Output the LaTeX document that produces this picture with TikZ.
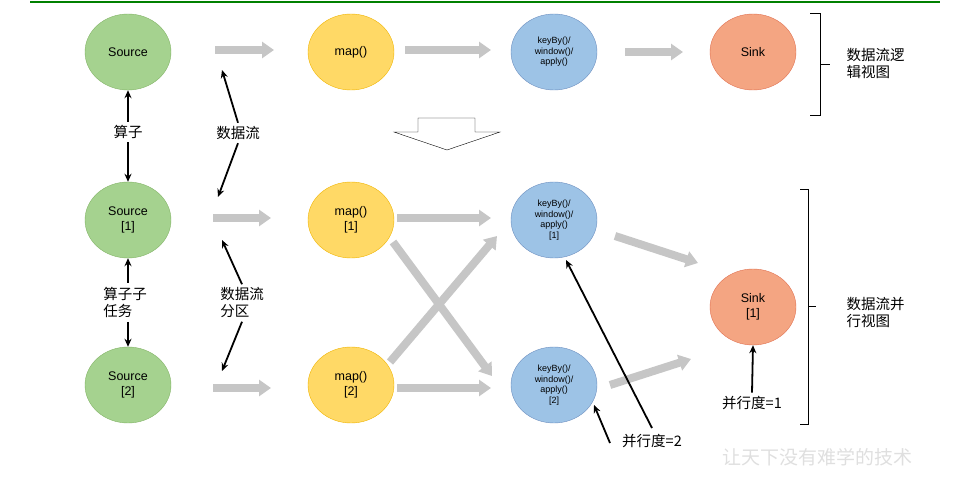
\documentclass[tikz,border=0pt]{standalone}
\usepackage{fontspec}
\setmainfont{Liberation Sans}
\newfontfamily\cjk{Noto Sans CJK SC}
\usetikzlibrary{shapes.geometric,shapes.arrows,arrows.meta,decorations.pathreplacing}
\definecolor{gfill}{HTML}{A5D28F}\definecolor{gline}{HTML}{82B366}
\definecolor{yfill}{HTML}{FFD966}\definecolor{yline}{HTML}{F0B400}
\definecolor{bfill}{HTML}{9DC3E6}\definecolor{bline}{HTML}{6C8EBF}
\definecolor{rfill}{HTML}{F4A582}\definecolor{rline}{HTML}{E07050}
\begin{document}
\begin{tikzpicture}[x=1pt,y=-1pt,
 el/.style={ellipse,minimum width=86pt,minimum height=76pt,inner sep=0pt,align=center,font=\fontsize{12.5}{15}\selectfont},
 src/.style={el,fill=gfill,draw=gline},
 mp/.style={el,fill=yfill,draw=yline},
 kb/.style={el,fill=bfill,draw=bline,font=\fontsize{9}{10.5}\selectfont},
 sk/.style={el,fill=rfill,draw=rline},
 ga/.style={-{Triangle[length=12pt,width=16pt]},line width=8pt,draw=gray!45},
 ba/.style={-{Stealth[length=8pt,width=7pt]},line width=1.8pt},
 lab/.style={font=\cjk\fontsize{14.5}{17}\selectfont,align=left}]
\useasboundingbox (0,0) rectangle (956,502);
\draw[green!50!black,line width=1.5pt] (30,2)--(940,2);
\node[src] (s0) at (128,52) {Source};
\node[mp] (m0) at (351,52) {map()};
\node[kb] (k0) at (554,52) {keyBy()/\\window()/\\apply()};
\node[sk] (t0) at (753,52) {Sink};
\node[src] (s1) at (128,220) {Source\\{[1]}};
\node[mp] (m1) at (351,220) {map()\\{[1]}};
\node[kb] (k1) at (554,220) {keyBy()/\\window()/\\apply()\\{[1]}};
\node[src] (s2) at (128,385) {Source\\{[2]}};
\node[mp] (m2) at (351,385) {map()\\{[2]}};
\node[kb] (k2) at (554,385) {keyBy()/\\window()/\\apply()\\{[2]}};
\node[sk] (t1) at (753,307) {Sink\\{[1]}};
% gray arrows
\coordinate (a1) at (215,50); \coordinate (a2) at (274,50);
\coordinate (a3) at (405,50); \coordinate (a4) at (491,50);
\coordinate (a5) at (625,52); \coordinate (a6) at (683,52);
\coordinate (b1) at (213,218); \coordinate (b2) at (271,218);
\coordinate (b3) at (397,218); \coordinate (b4) at (491,218);
\coordinate (c1) at (213,388); \coordinate (c2) at (271,388);
\coordinate (c3) at (397,388); \coordinate (c4) at (491,388);
\coordinate (x1) at (393,242); \coordinate (x2) at (492,376);
\coordinate (y1) at (390,362); \coordinate (y2) at (497,236);
\coordinate (z1) at (615,236); \coordinate (z2) at (698,263);
\coordinate (w1) at (610,385); \coordinate (w2) at (691,359);
\foreach \p/\q in {a1/a2,a3/a4,a5/a6,b1/b2,b3/b4,c1/c2,c3/c4,x1/x2,y1/y2,z1/z2,w1/w2}
  \draw[ga] (\p)--(\q);
% hollow arrow
\draw[fill=white] (418,118)--(475,118)--(475,132)--(500,132)--(447,150)--(394,132)--(418,132)--cycle;
% labels
\node[lab] (l1) at (128,132) {算子};
\node[lab] (l2) at (238,133) {数据流};
\node[lab] (l3) at (125,302) {算子子\\任务};
\node[lab] (l4) at (242,303) {数据流\\分区};
\node[lab] (l5) at (652,441) {并行度=2};
\node[lab] (l6) at (752,403) {并行度=1};
\coordinate (p1) at (222,70); \coordinate (p2) at (218,197);
\coordinate (p3) at (222,240); \coordinate (p4) at (222,371);
\coordinate (p5) at (566,260); \coordinate (p6) at (594,405);
\coordinate (q5) at (652,428); \coordinate (q6) at (610,443);
\coordinate (r1) at (128,283); \coordinate (r2) at (128,322);
\draw[ba] (l1.north)--(s0.south); \draw[ba] (l1.south)--(s1.north);
\draw[ba] (l2.north)--(p1); \draw[ba] (l2.south)--(p2);
\draw[ba] (r1)--(s1.south); \draw[ba] (r2)--(s2.north);
\draw[ba] (l4.north)--(p3); \draw[ba] (l4.south)--(p4);
\draw[ba] (q5)--(p5); \draw[ba] (q6)--(p6);
\draw[ba] (l6.north)--(t1.south);
% braces
\draw[line width=1pt] (810,14)--(820,14)--(820,116)--(810,116) (820,65)--(830,65);
\draw[line width=1pt] (800,190)--(808,190)--(808,425)--(800,425) (808,307)--(816,307);
\node[lab,anchor=west] (v1) at (843,63) {数据流逻\\辑视图};
\node[lab,anchor=west] (v2) at (843,312) {数据流并\\行视图};
\node[font=\cjk\fontsize{19}{19}\selectfont,text=gray!25] (wm) at (817,457) {让天下没有难学的技术};
\end{tikzpicture}
\end{document}
